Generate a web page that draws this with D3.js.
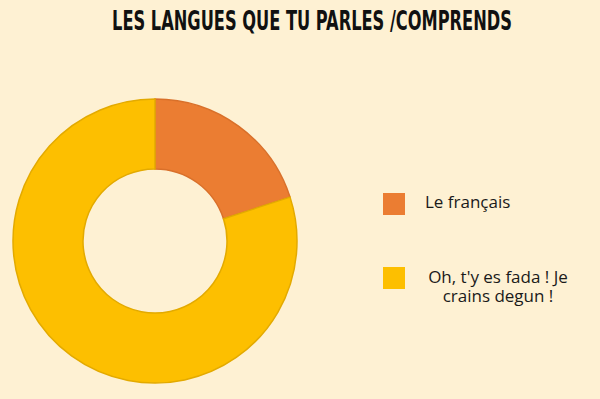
<!DOCTYPE html>
<html>
<head>
<meta charset="utf-8">
<script src="https://cdn.jsdelivr.net/npm/d3@7"></script>
<style>
  html, body { margin: 0; padding: 0; background: #FEF1D3; }
  svg { display: block; }
</style>
</head>
<body>
<svg id="chart" width="600" height="399"></svg>
<script>
// Survey answers and their shares (percent)
const categories = ["Le français", "Oh, t'y es fada ! Je crains degun !"];
const values = [20, 80];
const legendLines = [["Le français"], ["Oh, t'y es fada ! Je", "crains degun !"]];
const fills = ["#EB7D32", "#FDBF00"];
const strokes = ["#D9702A", "#E3AA00"];
const title = "LES LANGUES QUE TU PARLES /COMPRENDS";

const svg = d3.select("#chart");
const W = 600, H = 399;

svg.append("rect").attr("width", W).attr("height", H).attr("fill", "#FEF1D3");

// Title: a tall, condensed bold line, fitted to 400px wide and stretched to a 20px cap height
const titleG = svg.append("g");
const titleText = titleG.append("text")
  .attr("x", 0).attr("y", 0)
  .attr("text-anchor", "middle")
  .style("font-family", "'DejaVu Sans Condensed', 'Liberation Sans Narrow', sans-serif")
  .style("font-weight", "bold")
  .style("font-size", "20px")
  .attr("fill", "#111")
  .text(title);
const natural = titleText.node().getComputedTextLength();
const fitSize = 20 * 400 / natural;
titleText.style("font-size", fitSize + "px");
const capH = 0.73 * fitSize;
titleG.attr("transform", `translate(312,30) scale(1,${20 / capH})`);

const cx = 155, cy = 241, outerR = 142, innerR = 72;

const pie = d3.pie().sort(null).value(d => d)(values);
const arc = d3.arc().innerRadius(innerR).outerRadius(outerR);

const g = svg.append("g").attr("transform", `translate(${cx},${cy})`);
g.selectAll("path").data(pie).join("path")
  .attr("d", arc)
  .attr("fill", (d, i) => fills[i])
  .attr("stroke", (d, i) => strokes[i])
  .attr("stroke-width", 1.5);

// Legend
const legendY = [193, 267];
const lg = svg.append("g");
categories.forEach((c, i) => {
  lg.append("rect")
    .attr("x", 383).attr("y", legendY[i])
    .attr("width", 22).attr("height", 22)
    .attr("fill", fills[i]);
  const lines = legendLines[i];
  lines.forEach((l, j) => {
    lg.append("text")
      .attr("x", lines.length === 1 ? 425 : 498)
      .attr("y", legendY[i] + 15 + (lines.length === 1 ? 0 : 1) + j * 19)
      .attr("text-anchor", lines.length === 1 ? "start" : "middle")
      .style("font-family", "'Open Sans', Lato, sans-serif")
      .style("font-size", "17px")
      .attr("fill", "#1a1a1a")
      .text(l);
  });
});
</script>
</body>
</html>
